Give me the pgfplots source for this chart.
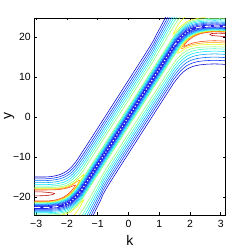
\documentclass[border=0pt]{standalone}
\usepackage{pgfplots}
\pgfplotsset{compat=1.18}
\usepackage{fontspec}
\setmainfont{Liberation Sans}
\usetikzlibrary{calc}
\definecolor{L1}{rgb}{0,0,0.8}
\definecolor{L2}{rgb}{0,0.15,1}
\definecolor{L3}{rgb}{0,0.4,1}
\definecolor{L4}{rgb}{0,0.65,1}
\definecolor{L5}{rgb}{0,0.9,1}
\definecolor{L6}{rgb}{0.25,1,0.75}
\definecolor{L7}{rgb}{0.55,1,0.45}
\definecolor{L8}{rgb}{0.92,1,0.08}
\definecolor{L9}{rgb}{1,0.65,0}
\definecolor{L10}{rgb}{1,0.25,0}
\definecolor{L11}{rgb}{0.75,0,0}
\definecolor{chain}{rgb}{0.12,0.12,0.9}
\pgfplotsset{cl/.style={line width=0.55bp, smooth, tension=0.5}}
\begin{document}
\begin{tikzpicture}
\begin{axis}[name=ax, scale only axis, width=191bp, height=197bp,
  xmin=-3.06, xmax=3.15, ymin=-24.5, ymax=24.75,
  xtick={-3,-2,-1,0,1,2,3}, xticklabels={−3,−2,−1,0,1,2,3},
  ytick={-20,-10,0,10,20}, yticklabels={−20,−10,0,10,20},
  tick align=inside, tick pos=both, major tick length=2.5bp,
  axis line style={line width=0.6bp},
  every tick/.style={black, line width=0.5bp},
  tick label style={font=\fontsize{10.5}{12}\selectfont},
  xticklabel style={yshift=-2bp},
  xlabel={k}, ylabel={y},
  every axis x label/.style={at={(rel axis cs:0.5,-0.127)}, anchor=center, font=\fontsize{14}{16}\selectfont},
  every axis y label/.style={at={(rel axis cs:-0.132,0.5)}, anchor=center, rotate=90, font=\fontsize{14}{16}\selectfont},
  clip=true]
% upper outer lines
\addplot[cl, color=L1] coordinates {(-3.06,-15.0) (-2.9,-15.0) (-2.7,-15.0) (-2.5,-14.87) (-2.3,-14.56) (-2.1,-13.97) (-1.9,-12.9) (-1.7,-11.1) (-1.5,-8.75) (-1.3,-6.4) (0.6,16.4) (0.9,20.46) (1.1,23.32) (1.3,26.18)};
\addplot[cl, color=L2] coordinates {(-3.06,-15.45) (-2.9,-15.45) (-2.7,-15.45) (-2.5,-15.34) (-2.3,-15.08) (-2.1,-14.55) (-1.9,-13.58) (-1.7,-11.89) (-1.5,-9.65) (-1.3,-7.3) (0.6,15.5) (0.9,19.52) (1.1,22.33) (1.3,25.15)};
\addplot[cl, color=L3] coordinates {(-3.06,-15.9) (-2.9,-15.9) (-2.7,-15.9) (-2.5,-15.81) (-2.3,-15.58) (-2.1,-15.11) (-1.9,-14.2) (-1.7,-12.6) (-1.5,-10.45) (-1.3,-8.1) (0.6,14.7) (0.9,18.68) (1.1,21.45) (1.3,24.23) (1.5,26.95)};
\addplot[cl, color=L4] coordinates {(-3.06,-16.4) (-2.9,-16.4) (-2.7,-16.4) (-2.5,-16.33) (-2.3,-16.13) (-2.1,-15.7) (-1.9,-14.85) (-1.7,-13.33) (-1.5,-11.25) (-1.3,-8.9) (0.6,13.9) (0.9,17.84) (1.1,20.57) (1.3,23.31) (1.5,25.99)};
\addplot[cl, color=L5] coordinates {(-3.06,-16.9) (-2.9,-16.9) (-2.7,-16.9) (-2.5,-16.84) (-2.3,-16.67) (-2.1,-16.29) (-1.9,-15.5) (-1.7,-14.05) (-1.5,-12.05) (-1.3,-9.7) (0.6,13.1) (0.9,17.0) (1.1,19.69) (1.3,22.39) (1.5,25.03)};
\addplot[cl, color=L6] coordinates {(-3.06,-17.3) (-2.9,-17.3) (-2.7,-17.3) (-2.5,-17.26) (-2.3,-17.13) (-2.1,-16.81) (-1.9,-16.1) (-1.7,-14.75) (-1.5,-12.85) (-1.3,-10.5) (0.6,12.3) (0.9,16.16) (1.1,18.81) (1.3,21.47) (1.5,24.07) (1.7,26.28)};
\addplot[cl, color=L7] coordinates {(-3.06,-17.6) (-2.9,-17.6) (-2.7,-17.6) (-2.5,-17.59) (-2.3,-17.52) (-2.1,-17.29) (-1.9,-16.7) (-1.7,-15.5) (-1.5,-13.75) (-1.3,-11.4) (0.6,11.4) (0.9,15.21) (1.1,17.82) (1.3,20.43) (1.5,22.99) (1.7,25.15)};
% upper inner lines
\addplot[cl, color=L7] coordinates {(-3.06,-21.4) (-2.9,-21.4) (-2.7,-21.4) (-2.5,-21.29) (-2.3,-21.0) (-2.1,-20.46) (-1.9,-19.45) (-1.7,-17.73) (-1.5,-15.45) (-1.3,-13.1) (1.3,18.1) (1.5,20.45) (1.7,22.25) (1.9,23.5) (2.1,24.13) (2.3,24.44) (2.5,24.58) (2.7,24.65) (2.9,24.65) (3.15,24.55)};
\addplot[cl, color=L6] coordinates {(-3.06,-21.55) (-2.9,-21.55) (-2.7,-21.55) (-2.5,-21.45) (-2.3,-21.19) (-2.1,-20.69) (-1.9,-19.73) (-1.7,-18.06) (-1.5,-15.85) (-1.3,-13.5) (1.3,17.7) (1.5,20.05) (1.7,21.88) (1.9,23.15) (2.1,23.8) (2.3,24.13) (2.5,24.28) (2.7,24.35) (2.9,24.35) (3.15,24.25)};
\addplot[cl, color=L5] coordinates {(-3.06,-21.7) (-2.9,-21.7) (-2.7,-21.7) (-2.5,-21.61) (-2.3,-21.37) (-2.1,-20.9) (-1.9,-19.98) (-1.7,-18.36) (-1.5,-16.2) (-1.3,-13.85) (1.3,17.35) (1.5,19.7) (1.7,21.54) (1.9,22.83) (2.1,23.49) (2.3,23.82) (2.5,23.97) (2.7,24.05) (2.9,24.05) (3.15,23.95)};
\addplot[cl, color=L4] coordinates {(-3.06,-21.85) (-2.9,-21.85) (-2.7,-21.85) (-2.5,-21.77) (-2.3,-21.55) (-2.1,-21.1) (-1.9,-20.23) (-1.7,-18.66) (-1.5,-16.55) (-1.3,-14.2) (1.3,17.0) (1.5,19.35) (1.7,21.2) (1.9,22.5) (2.1,23.17) (2.3,23.51) (2.5,23.67) (2.7,23.75) (2.9,23.75) (3.15,23.65)};
\addplot[cl, color=L3] coordinates {(-3.06,-22.0) (-2.9,-22.0) (-2.7,-22.0) (-2.5,-21.93) (-2.3,-21.73) (-2.1,-21.32) (-1.9,-20.48) (-1.7,-18.96) (-1.5,-16.9) (-1.3,-14.55) (1.3,16.65) (1.5,19.0) (1.7,20.88) (1.9,22.2) (2.1,22.89) (2.3,23.25) (2.5,23.42) (2.7,23.5) (2.9,23.5) (3.15,23.4)};
\addplot[cl, color=L2] coordinates {(-3.06,-22.15) (-2.9,-22.15) (-2.7,-22.15) (-2.5,-22.09) (-2.3,-21.91) (-2.1,-21.53) (-1.9,-20.73) (-1.7,-19.26) (-1.5,-17.25) (-1.3,-14.9) (1.3,16.3) (1.5,18.65) (1.7,20.55) (1.9,21.9) (2.1,22.61) (2.3,22.98) (2.5,23.16) (2.7,23.25) (2.9,23.25) (3.15,23.15)};
% lower outer lines
\addplot[cl, color=L1] coordinates {(-1.3,-27.01) (-1.1,-23.87) (-0.9,-20.74) (-0.6,-16.4) (1.3,6.4) (1.5,8.75) (1.7,10.63) (1.9,11.95) (2.1,12.64) (2.3,13.0) (2.5,13.17) (2.7,13.25) (2.9,13.25) (3.15,13.15)};
\addplot[cl, color=L2] coordinates {(-1.3,-25.89) (-1.1,-22.83) (-0.9,-19.76) (-0.6,-15.5) (1.3,7.3) (1.5,9.65) (1.7,11.53) (1.9,12.85) (2.1,13.54) (2.3,13.9) (2.5,14.07) (2.7,14.15) (2.9,14.15) (3.15,14.05)};
\addplot[cl, color=L3] coordinates {(-1.5,-27.7) (-1.3,-24.9) (-1.1,-21.9) (-0.9,-18.9) (-0.6,-14.7) (1.3,8.1) (1.5,10.45) (1.7,12.33) (1.9,13.65) (2.1,14.34) (2.3,14.7) (2.5,14.87) (2.7,14.95) (2.9,14.95) (3.15,14.85)};
\addplot[cl, color=L4] coordinates {(-1.5,-26.66) (-1.3,-23.91) (-1.1,-20.97) (-0.9,-18.04) (-0.6,-13.9) (1.3,8.9) (1.5,11.25) (1.7,13.13) (1.9,14.45) (2.1,15.14) (2.3,15.5) (2.5,15.67) (2.7,15.75) (2.9,15.75) (3.15,15.65)};
\addplot[cl, color=L5] coordinates {(-1.5,-25.62) (-1.3,-22.92) (-1.1,-20.04) (-0.9,-17.17) (-0.6,-13.1) (1.3,9.7) (1.5,12.05) (1.7,13.9) (1.9,15.2) (2.1,15.87) (2.3,16.21) (2.5,16.37) (2.7,16.45) (2.9,16.45) (3.15,16.35)};
\addplot[cl, color=L6] coordinates {(-1.7,-26.79) (-1.5,-24.58) (-1.3,-21.92) (-1.1,-19.12) (-0.9,-16.31) (-0.6,-12.3) (1.3,10.5) (1.5,12.85) (1.7,14.65) (1.9,15.9) (2.1,16.53) (2.3,16.84) (2.5,16.98) (2.7,17.05) (2.9,17.05) (3.15,16.95)};
\addplot[cl, color=L7] coordinates {(-1.7,-25.57) (-1.5,-23.41) (-1.3,-20.81) (-1.1,-18.07) (-0.9,-15.34) (-0.6,-11.4) (1.3,11.4) (1.5,13.75) (1.7,15.45) (1.9,16.6) (2.1,17.15) (2.3,17.4) (2.5,17.5) (2.7,17.55) (2.9,17.55) (3.15,17.45)};
% lower inner lines
\addplot[cl, color=L7] coordinates {(-3.06,-24.5) (-2.9,-24.5) (-2.7,-24.5) (-2.5,-24.48) (-2.3,-24.39) (-2.1,-24.13) (-1.9,-23.5) (-1.7,-22.25) (-1.5,-20.45) (-1.3,-18.1) (1.3,13.1) (1.5,15.45) (1.7,17.73) (1.9,19.45) (2.1,20.46) (2.3,21.06) (2.5,21.39) (2.7,21.55) (2.9,21.55) (3.15,21.45)};
\addplot[cl, color=L6] coordinates {(-3.06,-24.2) (-2.9,-24.2) (-2.7,-24.2) (-2.5,-24.18) (-2.3,-24.08) (-2.1,-23.8) (-1.9,-23.15) (-1.7,-21.88) (-1.5,-20.05) (-1.3,-17.7) (1.3,13.5) (1.5,15.85) (1.7,18.06) (1.9,19.73) (2.1,20.69) (2.3,21.24) (2.5,21.55) (2.7,21.7) (2.9,21.7) (3.15,21.6)};
\addplot[cl, color=L5] coordinates {(-3.06,-23.9) (-2.9,-23.9) (-2.7,-23.9) (-2.5,-23.87) (-2.3,-23.77) (-2.1,-23.49) (-1.9,-22.83) (-1.7,-21.54) (-1.5,-19.7) (-1.3,-17.35) (1.3,13.85) (1.5,16.2) (1.7,18.36) (1.9,19.98) (2.1,20.9) (2.3,21.42) (2.5,21.71) (2.7,21.85) (2.9,21.85) (3.15,21.75)};
\addplot[cl, color=L4] coordinates {(-3.06,-23.6) (-2.9,-23.6) (-2.7,-23.6) (-2.5,-23.57) (-2.3,-23.46) (-2.1,-23.17) (-1.9,-22.5) (-1.7,-21.2) (-1.5,-19.35) (-1.3,-17.0) (1.3,14.2) (1.5,16.55) (1.7,18.66) (1.9,20.23) (2.1,21.1) (2.3,21.6) (2.5,21.87) (2.7,22.0) (2.9,22.0) (3.15,21.9)};
\addplot[cl, color=L3] coordinates {(-3.06,-23.35) (-2.9,-23.35) (-2.7,-23.35) (-2.5,-23.32) (-2.3,-23.2) (-2.1,-22.89) (-1.9,-22.2) (-1.7,-20.88) (-1.5,-19.0) (-1.3,-16.65) (1.3,14.55) (1.5,16.9) (1.7,18.96) (1.9,20.48) (2.1,21.32) (2.3,21.78) (2.5,22.03) (2.7,22.15) (2.9,22.15) (3.15,22.05)};
\addplot[cl, color=L2] coordinates {(-3.06,-23.1) (-2.9,-23.1) (-2.7,-23.1) (-2.5,-23.06) (-2.3,-22.93) (-2.1,-22.61) (-1.9,-21.9) (-1.7,-20.55) (-1.5,-18.65) (-1.3,-16.3) (1.3,14.9) (1.5,17.25) (1.7,19.26) (1.9,20.73) (2.1,21.53) (2.3,21.96) (2.5,22.19) (2.7,22.3) (2.9,22.3) (3.15,22.2)};
% loops top right (inner side of the bend)
\addplot[cl, color=L8] coordinates {(3.15,21.37) (2.9,21.47) (2.7,21.45) (2.5,21.3) (2.3,20.95) (2.1,20.35) (1.9,19.35) (1.7,17.5) (1.6,15.93) (1.7,16.3) (1.9,17.3) (2.1,17.75) (2.3,18.0) (2.5,18.1) (2.7,18.15) (2.9,18.15) (3.15,18.05)};
\addplot[cl, color=L9] coordinates {(3.15,21.29) (2.9,21.39) (2.7,21.37) (2.5,21.2) (2.3,20.85) (2.1,20.2) (1.9,19.1) (1.72,17.05) (1.9,17.7) (2.1,18.15) (2.3,18.4) (2.5,18.55) (2.7,18.6) (2.9,18.6) (3.15,18.5)};
\addplot[cl, color=L10] coordinates {(3.15,21.2) (2.9,21.28) (2.7,21.25) (2.5,21.07) (2.3,20.7) (2.1,20.0) (1.9,18.8) (1.8,17.65) (1.9,17.95) (2.1,18.5) (2.3,18.8) (2.5,18.95) (2.7,19.05) (2.9,19.05) (3.15,18.95)};
\addplot[cl, color=L11] coordinates {(3.15,20.9) (2.9,20.95) (2.7,20.85) (2.65,20.63) (2.7,20.4) (2.9,20.25) (3.15,20.1)};
\addplot[cl, color=L8] coordinates {(2.5,24.85) (2.3,24.7) (2.1,24.4) (1.9,23.85) (1.8,23.25) (1.7,22.65) (1.6,21.83) (1.45,20.66) (1.6,22.83) (1.7,23.9) (1.8,24.7) (1.9,25.4)};
% loops bottom left
\addplot[cl, color=L8] coordinates {(-3.06,-21.25) (-2.9,-21.25) (-2.7,-21.23) (-2.5,-21.15) (-2.3,-20.9) (-2.1,-20.35) (-1.9,-19.35) (-1.7,-17.6) (-1.6,-16.48) (-1.45,-14.36) (-1.6,-15.33) (-1.7,-16.0) (-1.9,-17.05) (-2.1,-17.55) (-2.3,-17.8) (-2.5,-17.85) (-2.7,-17.85) (-2.9,-17.85) (-3.06,-17.85)};
\addplot[cl, color=L9] coordinates {(-3.06,-21.15) (-2.9,-21.15) (-2.7,-21.14) (-2.5,-21.05) (-2.3,-20.78) (-2.1,-20.2) (-1.9,-19.15) (-1.7,-17.45) (-1.58,-15.73) (-1.7,-16.3) (-1.9,-17.3) (-2.1,-17.75) (-2.3,-17.98) (-2.5,-18.05) (-2.7,-18.05) (-2.9,-18.05) (-3.06,-18.05)};
\addplot[cl, color=L10] coordinates {(-3.06,-21.0) (-2.9,-21.0) (-2.7,-21.0) (-2.5,-20.9) (-2.3,-20.6) (-2.1,-20.0) (-1.9,-18.85) (-1.72,-17.04) (-1.9,-17.55) (-2.1,-17.95) (-2.3,-18.15) (-2.5,-18.22) (-2.7,-18.25) (-2.9,-18.25) (-3.06,-18.25)};
\addplot[cl, color=L11] coordinates {(-3.06,-19.7) (-2.9,-19.7) (-2.7,-19.65) (-2.5,-19.45) (-2.4,-19.13) (-2.5,-18.95) (-2.7,-18.8) (-2.9,-18.7) (-3.06,-18.7)};
\addplot[cl, color=L8] coordinates {(-2.5,-24.75) (-2.3,-24.65) (-2.1,-24.4) (-1.9,-23.85) (-1.8,-23.25) (-1.7,-22.65) (-1.6,-21.83) (-1.45,-20.66) (-1.6,-22.83) (-1.7,-23.9) (-1.8,-24.7) (-1.9,-25.4)};
% central chain of small minima
\addplot[smooth, tension=0.5, color=chain, line width=2.8bp] coordinates {(-3.06,-22.6) (-2.9,-22.6) (-2.7,-22.6) (-2.5,-22.55) (-2.3,-22.4) (-2.1,-22.05) (-1.9,-21.3) (-1.7,-19.9) (-1.5,-17.95) (-1.3,-15.6) (1.3,15.6) (1.5,17.95) (1.7,19.9) (1.9,21.3) (2.1,22.05) (2.3,22.45) (2.5,22.65) (2.7,22.75) (2.9,22.75) (3.15,22.65)};
\addplot[smooth, tension=0.5, color=white, line width=1.1bp, dash pattern=on 1.2bp off 2.2bp] coordinates {(-2.1,-22.05) (-1.9,-21.3) (-1.7,-19.9) (-1.5,-17.95) (-1.3,-15.6) (1.3,15.6) (1.5,17.95) (1.7,19.9) (1.9,21.3) (2.1,22.05)};
\addplot[smooth, tension=0.5, color=white, line width=1.1bp, dash pattern=on 6bp off 3bp] coordinates {(2.2,22.27) (2.3,22.45) (2.5,22.65) (2.7,22.75) (2.9,22.75) (3.15,22.65)};
\addplot[smooth, tension=0.5, color=white, line width=1.1bp, dash pattern=on 6bp off 3bp] coordinates {(-3.06,-22.6) (-2.9,-22.6) (-2.7,-22.6) (-2.5,-22.55) (-2.3,-22.4) (-2.2,-22.25)};
\end{axis}
\pgfresetboundingbox
\path[use as bounding box] ($(ax.south west)+(-34.3bp,-34bp)$) rectangle ($(ax.north east)+(23.7bp,18bp)$);
\end{tikzpicture}
\end{document}
